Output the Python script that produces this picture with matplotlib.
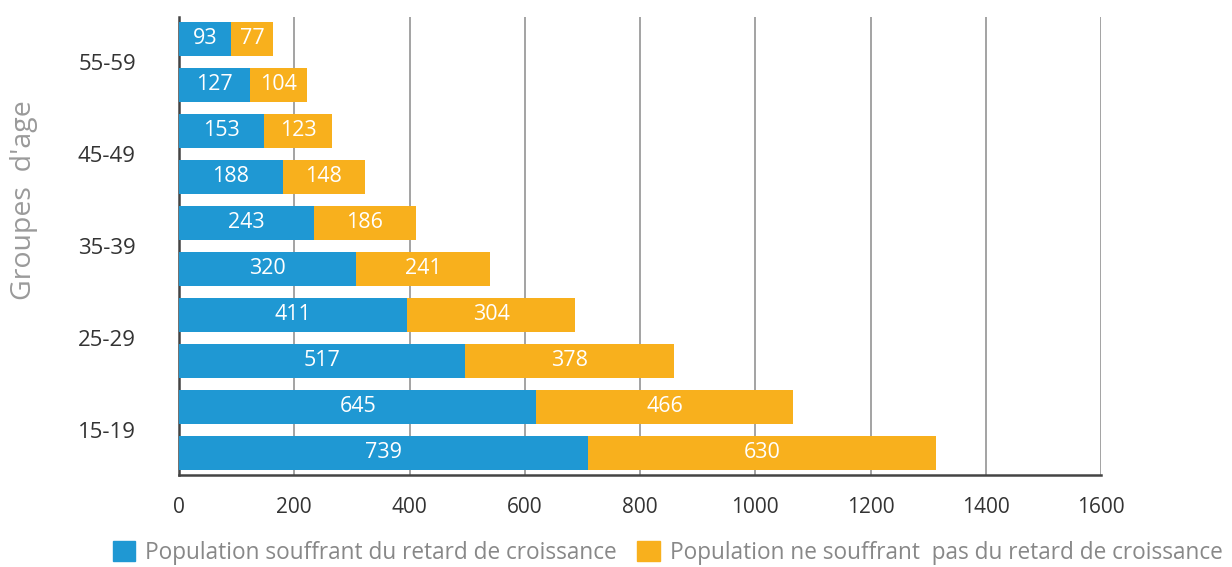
import numpy as np
import matplotlib
matplotlib.use("Agg")
import matplotlib.pyplot as plt
from matplotlib.patches import Patch

plt.rcParams['font.family'] = ['Open Sans', 'DejaVu Sans']

# bars listed bottom -> top
age_ticks = ['15-19', '25-29', '35-39', '45-49', '55-59']

# bar lengths as drawn in the picture
stunted = [710, 620, 496, 396, 307, 234, 180, 148, 123, 90]
not_stunted = [604, 446, 363, 292, 233, 177, 143, 118, 99, 73]

# numbers printed inside the bars
stunted_lbl = [739, 645, 517, 411, 320, 243, 188, 153, 127, 93]
not_stunted_lbl = [630, 466, 378, 304, 241, 186, 148, 123, 104, 77]

x_ticks = [0, 200, 400, 600, 800, 1000, 1200, 1400, 1600]

blue = '#1f98d3'
orange = '#f8b01d'

fig = plt.figure(figsize=(12.32, 5.67), dpi=100)
ax = fig.add_axes([0.1453, 0.1623, 0.7484, 0.8077])

y = np.arange(len(stunted))
h = 0.74
ax.barh(y, stunted, height=h, color=blue, zorder=3)
ax.barh(y, not_stunted, left=stunted, height=h, color=orange, zorder=3)

for i in range(len(y)):
    ax.text(stunted[i] / 2, y[i], str(stunted_lbl[i]), ha='center', va='center',
            color='white', fontsize=15.5, zorder=4)
    ax.text(stunted[i] + not_stunted[i] / 2, y[i], str(not_stunted_lbl[i]),
            ha='center', va='center', color='white', fontsize=15.5, zorder=4)

ax.set_xlim(0, 1600)
ax.set_ylim(-0.478, 9.478)
ax.set_xticks(x_ticks)
ax.set_xticklabels([str(v) for v in x_ticks])
ax.set_yticks(np.arange(0.5, 10, 2))
ax.set_yticklabels(age_ticks)
ax.tick_params(axis='both', length=0, labelsize=15, colors='#333333')
ax.tick_params(axis='y', labelsize=16, pad=31)
ax.tick_params(axis='x', pad=16)

ax.grid(axis='x', color='#8a8a8a', linewidth=1.1, zorder=1)
for s in ['top', 'right']:
    ax.spines[s].set_visible(False)
for s in ['left', 'bottom']:
    ax.spines[s].set_color('#444444')
    ax.spines[s].set_linewidth(1.8)

ax.set_ylabel("Groupes  d'age", fontsize=20.5, color='#9a9a9a')
ax.yaxis.set_label_coords(-0.153, 0.6)

handles = [Patch(color=blue), Patch(color=orange)]
fig.legend(handles, ['Population souffrant du retard de croissance',
                     'Population ne souffrant  pas du retard de croissance'],
           loc='center', bbox_to_anchor=(0.542, 0.025), ncol=2, frameon=False,
           fontsize=16.3, labelcolor='#888888', handlelength=1.0, handleheight=1.0,
           handletextpad=0.45, columnspacing=0.9)

fig.savefig('out.png', dpi=100)
